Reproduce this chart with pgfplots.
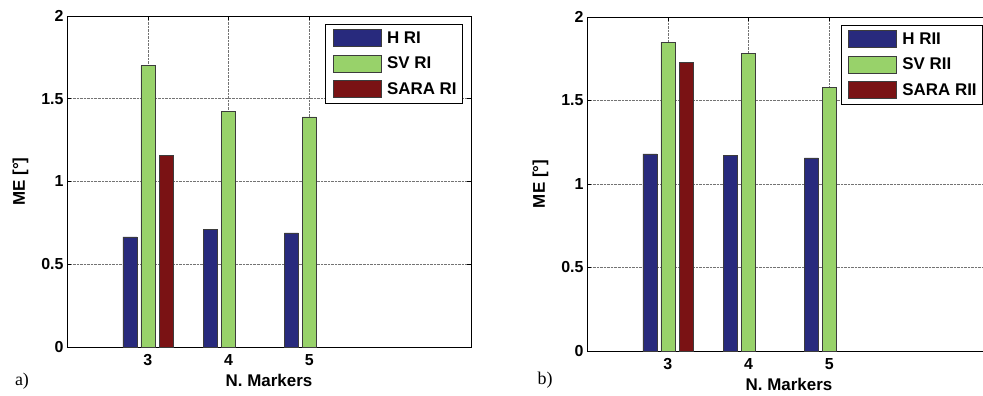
\documentclass[border=0pt]{standalone}
\usepackage{fontspec}
\setmainfont{Liberation Sans}
\newfontfamily\timesf{Liberation Serif}
\usepackage{pgfplots}
\pgfplotsset{compat=1.18}
\definecolor{hblue}{RGB}{40,42,125}
\definecolor{svgreen}{RGB}{152,210,106}
\definecolor{sarared}{RGB}{122,18,20}
\definecolor{edgec}{RGB}{60,60,60}
\pgfplotsset{
  mystyle/.style={
    scale only axis, width=404bp, height=331bp,
    ybar=4bp, bar width=14bp,
    xmin=2, xmax=7, ymin=0, ymax=2,
    xtick={3,4,5}, ytick={0,0.5,1,1.5,2},
    grid=major, major grid style={densely dotted, black!55, line width=0.6pt},
    tick align=inside, major tick length=4bp,
    tick style={black, line width=0.6pt},
    tick label style={font=\bfseries\fontsize{16}{16}\selectfont},
    xticklabel style={yshift=-4bp},
    label style={font=\bfseries\fontsize{17}{17}\selectfont},
    /pgf/number format/assume math mode=true,
    xlabel={N. Markers}, ylabel={ME [°]},
    xlabel style={yshift=-2bp},
    ylabel style={yshift=6bp},
    axis line style={line width=0.8pt},
    legend style={at={(1,1)}, anchor=north east, xshift=-8bp, yshift=-8bp,
      font=\bfseries\fontsize{17}{17}\selectfont, draw=black, line width=0.6pt,
      inner xsep=4bp, inner ysep=5bp, row sep=8bp, cells={anchor=west}},
    legend cell align=left,
  },
  barimg/.style={legend image code/.code={\path (-3bp,0) (52bp,0); \draw[##1, line width=0.6pt] (0bp,-8.5bp) rectangle (48bp,8.5bp);}},
}
\begin{document}
\begin{tikzpicture}
\useasboundingbox (0,0) rectangle (983bp,-396bp);
\begin{axis}[mystyle, at={(67bp,-347bp)}, anchor=south west]
\addplot[fill=hblue, draw=edgec, line width=0.5pt, barimg] coordinates {(3,0.665) (4,0.71) (5,0.69)};
\addplot[fill=svgreen, draw=edgec, line width=0.5pt, barimg] coordinates {(3,1.70) (4,1.425) (5,1.39)};
\addplot[fill=sarared, draw=edgec, line width=0.5pt, barimg] coordinates {(3,1.16)};
\legend{H RI, SV RI, SARA RI}
\end{axis}
\begin{axis}[mystyle, height=334bp, at={(587bp,-351bp)}, anchor=south west]
\addplot[fill=hblue, draw=edgec, line width=0.5pt, barimg] coordinates {(3,1.18) (4,1.17) (5,1.156)};
\addplot[fill=svgreen, draw=edgec, line width=0.5pt, barimg] coordinates {(3,1.85) (4,1.78) (5,1.58)};
\addplot[fill=sarared, draw=edgec, line width=0.5pt, barimg] coordinates {(3,1.73)};
\legend{H RII, SV RII, SARA RII}
\end{axis}
\node[font=\timesf\fontsize{18}{18}\selectfont, anchor=center] at (22bp,-381bp) {a)};
\node[font=\timesf\fontsize{18}{18}\selectfont, anchor=center] at (545bp,-380bp) {b)};
\end{tikzpicture}
\end{document}
